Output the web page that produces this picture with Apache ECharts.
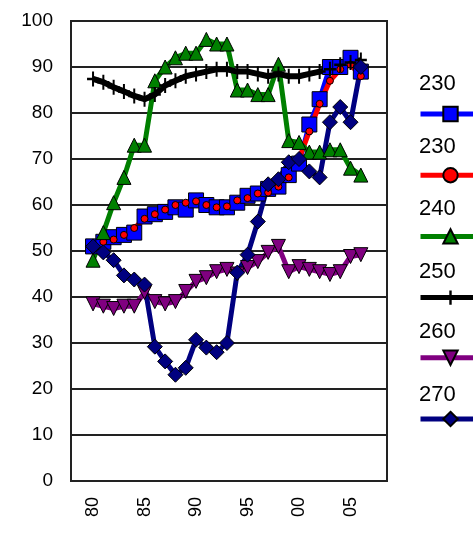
<!DOCTYPE html>
<html>
<head>
<meta charset="utf-8">
<script src="https://cdn.jsdelivr.net/npm/echarts@6/dist/echarts.min.js"></script>
<style>
html, body { margin: 0; padding: 0; background: #fff; }
#chart { width: 473px; height: 536px; }
</style>
</head>
<body>
<div id="chart"></div>
<script>
var years = [1980, 1981, 1982, 1983, 1984, 1985, 1986, 1987, 1988, 1989,
             1990, 1991, 1992, 1993, 1994, 1995, 1996, 1997, 1998, 1999,
             2000, 2001, 2002, 2003, 2004, 2005, 2006];
var xTicks = [1980, 1985, 1990, 1995, 2000, 2005];
var seriesNames = ['230', '230', '240', '250', '260', '270'];

var s230a = [51, 52, 53, 53.5, 54, 57.5, 58, 58.5, 59.5, 59, 61, 60, 59.5, 59.5,
             60.5, 62, 62.5, 63.5, 64, 66.5, 69, 77.5, 83, 90, 90, 92, 89];
var s230b = [51, 52, 52.5, 53.5, 55, 57, 58, 59, 60, 60.5, 60.8, 60, 59.5, 59.7,
             61, 61.5, 62.5, 62.7, 64, 66, 70, 76, 82, 87, 89.5, 90.5, 88];
var s240 = [48, 54, 60.5, 66, 73, 73, 87, 90, 92, 93, 93, 96, 95, 95,
            85, 85, 84, 84, 90.6, 74, 73.6, 71.5, 71.5, 72, 72, 68, 66.5];
var s250 = [87.4, 86.7, 85.6, 84.7, 83.7, 83, 84, 86, 87, 88, 88.5, 89, 89.5, 89.5,
            89, 89, 88.5, 88, 88.5, 88, 88, 88.5, 89, 89.5, 90.5, 91, 91.5];
var s260 = [38.5, 38, 37.5, 38, 38, 41, 39, 38.5, 39, 41.2, 43.4, 44.2, 45.5, 46,
            45, 46.4, 47.7, 49.7, 51, 45.5, 46.6, 46, 45.5, 44.9, 45.5, 48.8, 49.2];
var s270 = [51, 49.7, 48, 44.7, 43.8, 42.7, 29.2, 26, 23.1, 24.6, 30.7, 29, 28, 30,
            45.3, 49.2, 56.4, 64.5, 65.6, 69.3, 70, 67.3, 66, 78, 81.3, 78, 90];

function pairs(vals) {
    return years.map(function (y, i) { return [y, vals[i]]; });
}

var plus = 'path://M5,0H7V5H12V7H7V12H5V7H0V5H5Z';

var chart = echarts.init(document.getElementById('chart'));

function line(id, name, vals, color, symbol, size, width, extra) {
    var s = {
        id: id,
        name: name,
        type: 'line',
        data: pairs(vals),
        symbol: symbol,
        symbolSize: size,
        showAllSymbol: true,
        lineStyle: { color: color, width: width },
        itemStyle: { color: color, borderColor: '#000', borderWidth: 1 },
        emphasis: { disabled: true },
        animation: false
    };
    for (var k in extra) { s[k] = extra[k]; }
    return s;
}

var series = [
    line('a', '230', s230a, '#0000ff', 'rect', 15, 5, {}),
    line('b', '230 ', s230b, '#ff0000', 'circle', 7, 5, {}),
    line('c', '240', s240, '#008000', 'triangle', 14, 5, {}),
    line('d', '250', s250, '#000000', plus, [12, 15], 6, { itemStyle: { color: '#000' } }),
    line('e', '260', s260, '#800080', 'triangle', 14, 5, { symbolRotate: 180 }),
    line('f', '270', s270, '#000080', 'diamond', 15, 5, {})
];

var legendTops = [73, 136, 198, 261, 321, 384];
var labels = seriesNames.map(function (n, i) {
    return {
        type: 'text',
        left: 419,
        top: legendTops[i],
        style: { text: n, font: '22px "Liberation Sans", Arial, sans-serif', fill: '#000' }
    };
});

chart.setOption({
    backgroundColor: '#fff',
    animation: false,
    grid: {
        left: 71, top: 21, right: 86, bottom: 55,
        show: true, borderColor: '#222', borderWidth: 2, backgroundColor: '#fff'
    },
    legend: {
        orient: 'vertical',
        left: 413,
        top: 100,
        itemWidth: 60,
        itemHeight: 18,
        itemGap: 44,
        formatter: function () { return ''; },
        selectedMode: false,
        lineStyle: { width: 5 },
        data: ['230', '230 ', '240', '250', '260', '270']
    },
    xAxis: {
        type: 'value',
        min: 1977.86,
        max: 2008.54,
        axisLine: { show: false },
        axisTick: { show: false },
        splitLine: { show: false },
        axisLabel: {
            customValues: xTicks,
            rotate: 90,
            margin: 16,
            fontSize: 18,
            fontFamily: 'Liberation Sans',
            color: '#000',
            formatter: function (v) { return String(v).slice(2); }
        }
    },
    yAxis: {
        type: 'value',
        min: 0,
        max: 100,
        interval: 10,
        axisLine: { show: false },
        axisTick: { show: false },
        splitLine: { lineStyle: { color: '#222', width: 2 } },
        axisLabel: {
            margin: 18,
            fontSize: 19,
            fontFamily: 'Liberation Sans',
            color: '#000'
        }
    },
    graphic: labels,
    series: series
});
</script>
</body>
</html>
